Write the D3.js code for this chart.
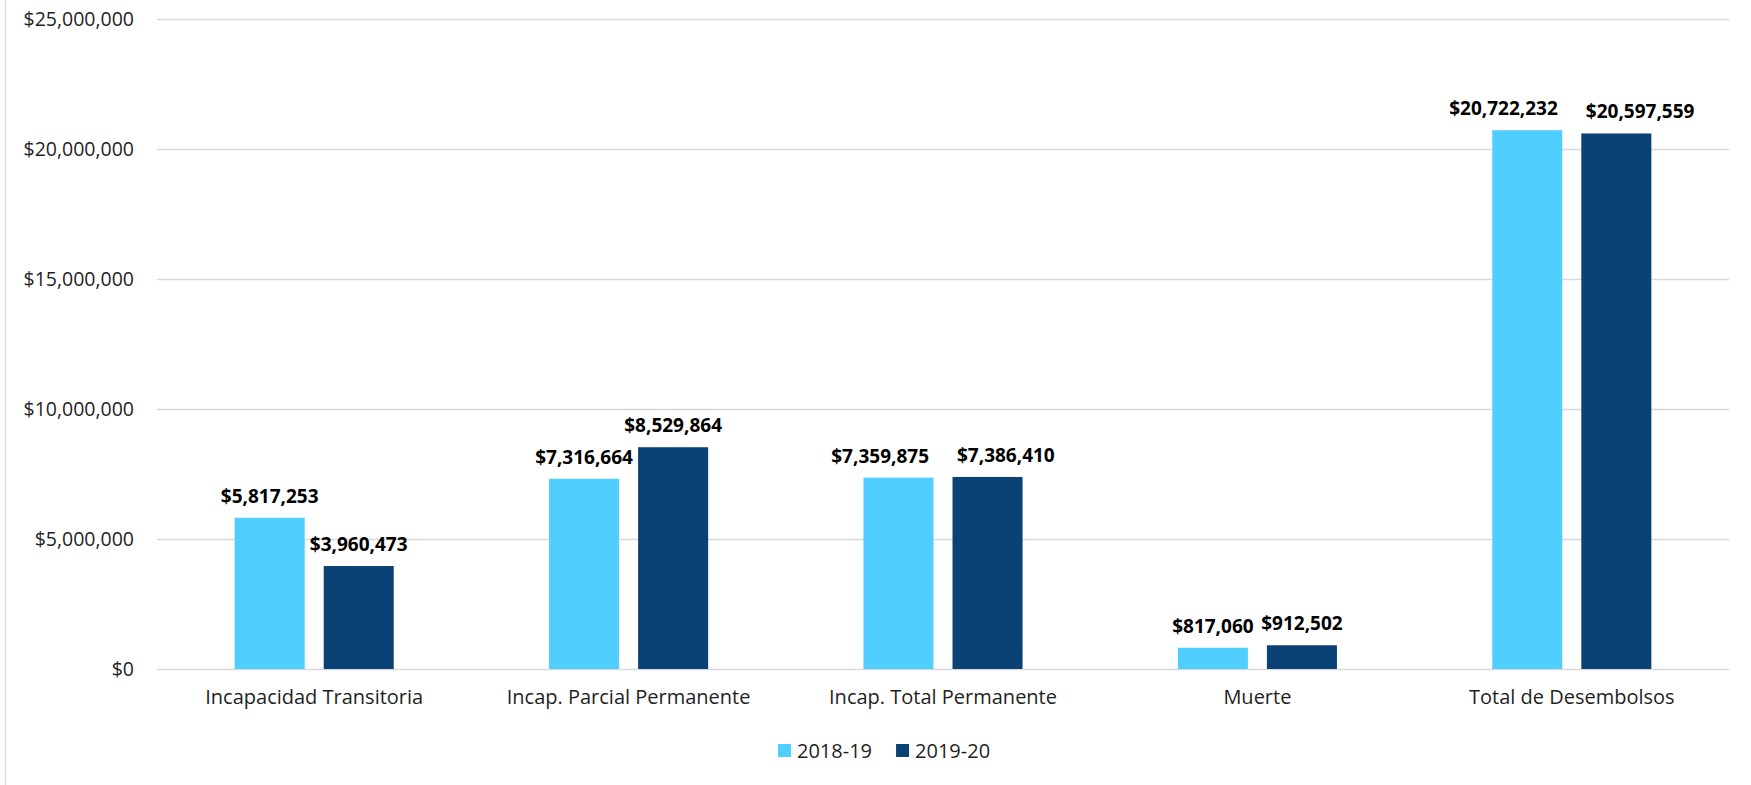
<!DOCTYPE html>
<html>
<head>
<meta charset="utf-8">
<script src="https://cdn.jsdelivr.net/npm/d3@7"></script>
<style>
    body { margin: 0; background: #fff; }
    svg { display: block; font-family: "Open Sans", "Noto Sans", sans-serif; }
</style>
</head>
<body>
<div id="chartdiv"></div>
<script>
var categories = ["Incapacidad Transitoria", "Incap. Parcial Permanente",
                  "Incap. Total Permanente", "Muerte", "Total de Desembolsos"];
var seriesNames = ["2018-19", "2019-20"];
var values1819 = [5817253, 7316664, 7359875, 817060, 20722232];
var values1920 = [3960473, 8529864, 7386410, 912502, 20597559];
var yTicks = [0, 5000000, 10000000, 15000000, 20000000, 25000000];
var seriesColors = ["#50cefe", "#0b4276"];

(function () {
    "use strict";

    var ch = {w: 1751, h: 785};
    ch.margin = {top: 19, right: 22, bottom: 116, left: 157};
    ch.width = ch.w - ch.margin.left - ch.margin.right;
    ch.height = ch.h - ch.margin.top - ch.margin.bottom;

    var money = d3.format("$,.0f");
    var rows = categories.map(function (c, i) {
        return {cat: c, vals: [values1819[i], values1920[i]]};
    });

    var svg = d3.select("#chartdiv").append("svg")
        .attr("width", ch.w)
        .attr("height", ch.h);

    //thin frame edge on the left like the source
    svg.append("line")
        .attr("x1", 5.5).attr("x2", 5.5)
        .attr("y1", 0).attr("y2", ch.h)
        .attr("stroke", "#d9d9d9")
        .attr("stroke-width", 1.5);

    var g = svg.append("g")
        .attr("transform", "translate(" + ch.margin.left + "," + ch.margin.top + ")");

    var x = d3.scaleBand().domain(categories).range([0, ch.width])
        .paddingInner(0.494).paddingOuter(0.247);
    var x2 = d3.scaleBand().domain(seriesNames).range([0, x.bandwidth()])
        .paddingInner(0.2135);
    var y = d3.scaleLinear().domain([0, 25000000]).range([ch.height, 0]);

    //gridlines + tick labels
    var yAxis = d3.axisLeft(y).tickValues(yTicks).tickFormat(money)
        .tickSize(-ch.width).tickPadding(23);
    g.append("g").attr("class", "axis axis--y").call(yAxis)
        .attr("font-family", null)
        .call(function (a) {
            a.select(".domain").remove();
            a.selectAll("line").attr("stroke", "#d9d9d9").attr("stroke-width", 1.5);
            a.selectAll("text").attr("font-size", "19.5px").attr("fill", "#1f1f1f");
        });

    var xAxis = d3.axisBottom(x).tickSize(0).tickPadding(21);
    g.append("g").attr("class", "axis axis--x")
        .attr("transform", "translate(0," + ch.height + ")")
        .call(xAxis)
        .attr("font-family", null)
        .call(function (a) {
            a.select(".domain").remove();
            a.selectAll("text").attr("font-size", "20px").attr("fill", "#1f1f1f");
        });

    var grp = g.selectAll(".grp").data(rows).enter().append("g")
        .attr("class", "grp")
        .attr("transform", function (d) { return "translate(" + x(d.cat) + ",0)"; });

    var items = grp.selectAll(".bar").data(function (d) {
        return d.vals.map(function (v, i) { return {s: seriesNames[i], v: v, i: i}; });
    }).enter();

    items.append("rect")
        .attr("class", "bar")
        .attr("x", function (d) { return x2(d.s); })
        .attr("y", function (d) { return y(d.v); })
        .attr("width", x2.bandwidth())
        .attr("height", function (d) { return ch.height - y(d.v); })
        .attr("fill", function (d) { return seriesColors[d.i]; });

    items.append("text")
        .attr("class", "vlab")
        .attr("x", function (d) { return x2(d.s) + x2.bandwidth() / 2; })
        .attr("y", function (d) { return y(d.v) - 15; })
        .attr("text-anchor", "middle")
        .attr("font-size", "19px")
        .attr("font-weight", "bold")
        .attr("fill", "#000")
        .text(function (d) { return money(d.v); });

    //push the two value labels of a group apart when they collide
    grp.each(function () {
        var labs = d3.select(this).selectAll(".vlab").nodes(), a, b, wa, wb, gap, dy;
        a = labs[0]; b = labs[1];
        wa = a.getComputedTextLength(); wb = b.getComputedTextLength();
        gap = (+b.getAttribute("x") - wb / 2) - (+a.getAttribute("x") + wa / 2);
        dy = Math.abs(+a.getAttribute("y") - +b.getAttribute("y"));
        if(gap < 2 && dy < 20) {  //overlap, spread them out
            a.setAttribute("x", +a.getAttribute("x") - (28 - gap) / 2);
            b.setAttribute("x", +b.getAttribute("x") + (28 - gap) / 2); }
    });

    //legend, centred under the chart
    var leg = svg.append("g").attr("transform", "translate(778,744)");
    var lx = 0;
    seriesNames.forEach(function (s, i) {
        var it = leg.append("g").attr("transform", "translate(" + lx + ",0)");
        it.append("rect").attr("width", 13).attr("height", 13)
            .attr("fill", seriesColors[i]);
        var t = it.append("text").attr("x", 19).attr("y", 13.5)
            .attr("font-size", "20px").attr("fill", "#1f1f1f").text(s);
        lx += 19 + t.node().getComputedTextLength() + 24;
    });
}());
</script>
</body>
</html>
